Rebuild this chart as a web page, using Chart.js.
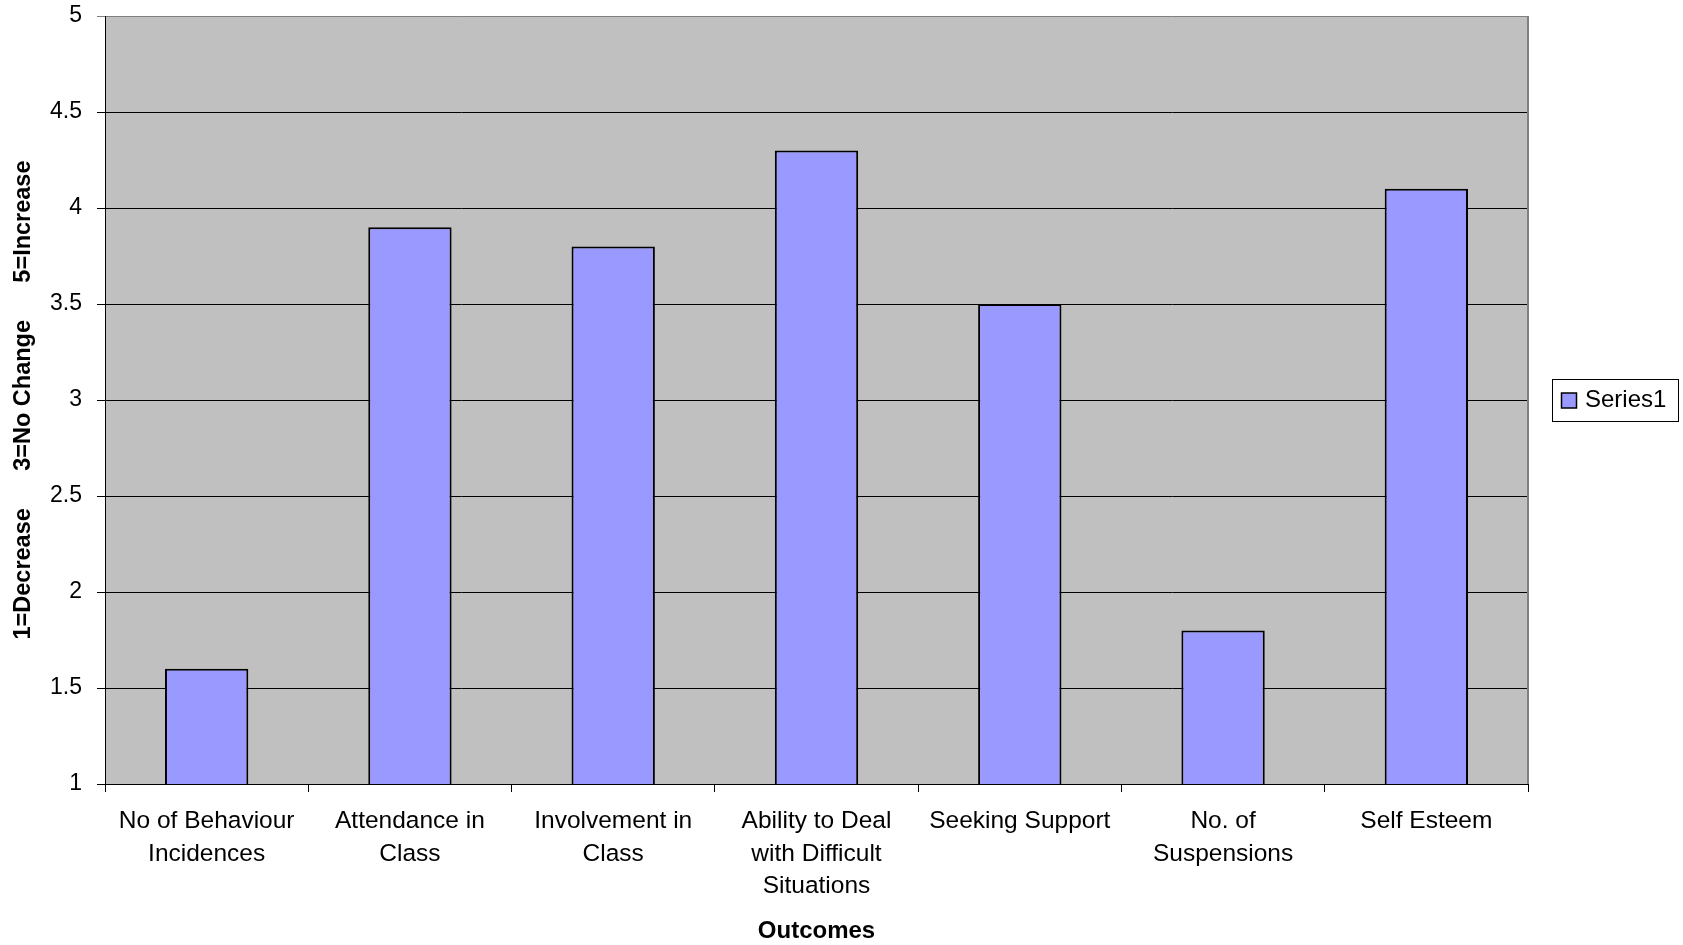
<!DOCTYPE html>
<html>
<head>
<meta charset="utf-8">
<title>Outcomes</title>
<script src="https://cdn.jsdelivr.net/npm/chart.js@4/dist/chart.umd.min.js"></script>
<style>
  html, body { margin: 0; padding: 0; background: #ffffff; }
  #wrap { width: 1683px; height: 945px; }
</style>
</head>
<body>
<div id="wrap"><canvas id="chart" width="1683" height="945"></canvas></div>
<script>
// Outcome categories (multi-line labels)
const categories = [
  ["No of Behaviour", "Incidences"],
  ["Attendance in", "Class"],
  ["Involvement in", "Class"],
  ["Ability to Deal", "with Difficult", "Situations"],
  ["Seeking Support"],
  ["No. of", "Suspensions"],
  ["Self Esteem"]
];
// Mean rating per outcome (1 = decrease, 3 = no change, 5 = increase)
const series1 = [1.6, 3.9, 3.8, 4.3, 3.5, 1.8, 4.1];
const seriesName = "Series1";
const yTitle = "1=Decrease     \u20093=No Change     \u20095=Increase";
const xTitle = "Outcomes";

const FONT = "'Liberation Sans', Arial, sans-serif";
const BAR_FILL = "#9999FF";
const PLOT_BG = "#C0C0C0";

// Grey plot background plus grey frame on the right
const plotFrame = {
  id: "plotFrame",
  beforeDraw(chart) {
    const { ctx, chartArea: a } = chart;
    ctx.save();
    ctx.fillStyle = PLOT_BG;
    ctx.fillRect(a.left, a.top, a.right - a.left, a.bottom - a.top);
    ctx.restore();
  },
  afterDatasetsDraw(chart) {
    const { ctx, chartArea: a } = chart;
    ctx.save();
    ctx.strokeStyle = "#808080";
    ctx.lineWidth = 2;
    ctx.beginPath();
    ctx.moveTo(a.right, a.top);
    ctx.lineTo(a.right, a.bottom);
    ctx.stroke();
    ctx.restore();
  }
};

// Boxed legend to the right of the plot
const boxedLegend = {
  id: "boxedLegend",
  afterDraw(chart) {
    const { ctx, chartArea: a } = chart;
    const ds = chart.data.datasets[0];
    const boxW = 126, boxH = 42;
    const x = a.right + 24;
    const y = Math.round((a.top + a.bottom) / 2 - boxH / 2);
    ctx.save();
    ctx.fillStyle = "#ffffff";
    ctx.fillRect(x, y, boxW, boxH);
    ctx.strokeStyle = "#000000";
    ctx.lineWidth = 1;
    ctx.strokeRect(x + 0.5, y + 0.5, boxW, boxH);
    const sw = 15;
    const sx = x + 9.5, sy = y + 14;
    ctx.fillStyle = ds.backgroundColor;
    ctx.fillRect(sx, sy, sw, sw);
    ctx.lineWidth = 1.5;
    ctx.strokeRect(sx, sy, sw, sw);
    ctx.fillStyle = "#000000";
    ctx.font = "24px " + FONT;
    ctx.textBaseline = "middle";
    ctx.textAlign = "left";
    ctx.fillText(ds.label, x + 33, y + boxH / 2);
    ctx.restore();
  }
};

new Chart(document.getElementById("chart"), {
  type: "bar",
  data: {
    labels: categories,
    datasets: [{
      label: seriesName,
      data: series1,
      backgroundColor: BAR_FILL,
      borderColor: "#000000",
      borderWidth: 2,
      borderSkipped: false,
      barPercentage: 0.41,
      categoryPercentage: 1.0
    }]
  },
  options: {
    responsive: false,
    animation: false,
    devicePixelRatio: 1,
    layout: { padding: { left: 0, top: 16, right: 155, bottom: 0 } },
    plugins: {
      legend: { display: false },
      tooltip: { enabled: false }
    },
    scales: {
      x: {
        offset: true,
        grid: {
          offset: true,
          drawOnChartArea: false,
          drawTicks: true,
          tickLength: 8,
          color: "#000000"
        },
        border: { display: true, color: "#000000", width: 1 },
        ticks: {
          color: "#000000",
          padding: 13,
          maxRotation: 0,
          autoSkip: false,
          font: { family: FONT, size: 24.5, lineHeight: 1.33 }
        },
        title: {
          display: true,
          text: xTitle,
          color: "#000000",
          font: { family: FONT, size: 24, weight: "bold", lineHeight: 1.15 },
          padding: { top: 0, bottom: 0 }
        },
        afterFit(scale) { scale.height = 161; }
      },
      y: {
        min: 1,
        max: 5,
        grid: {
          drawTicks: true,
          tickLength: 8,
          color: (c) => (c.tick && c.tick.value === 5 ? "#808080" : "#000000"),
          lineWidth: 1
        },
        border: { display: true, color: "#000000", width: 1 },
        ticks: {
          stepSize: 0.5,
          color: "#000000",
          padding: 15,
          font: { family: FONT, size: 23 },
          callback: (v) => String(v)
        },
        title: {
          display: true,
          text: yTitle,
          color: "#000000",
          font: { family: FONT, size: 23.5, weight: "bold" },
          padding: { top: 9, bottom: 0 }
        },
        afterFit(scale) {
          scale.width = 105;
          scale.paddingTop = 0;
          scale.paddingBottom = 0;
        }
      }
    }
  },
  plugins: [plotFrame, boxedLegend]
});
</script>
</body>
</html>
